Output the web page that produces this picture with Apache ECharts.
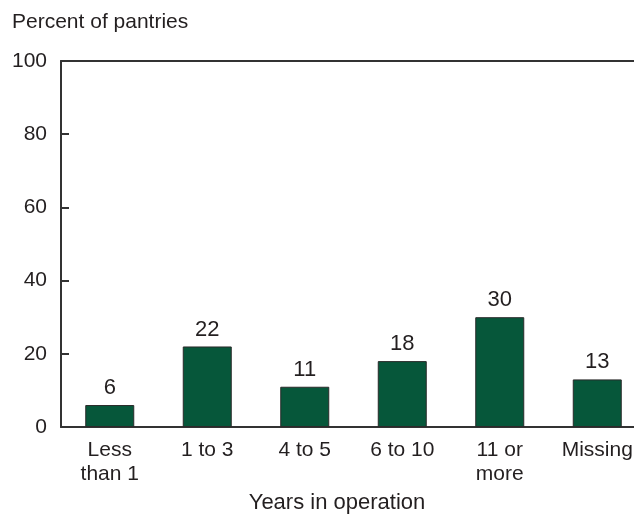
<!DOCTYPE html>
<html>
<head>
<meta charset="utf-8">
<script src="https://cdn.jsdelivr.net/npm/echarts@6/dist/echarts.min.js"></script>
<style>
  html, body { margin: 0; padding: 0; background: #fff; overflow: hidden; }
  /* the plot runs past the right edge of the window in the original */
  #chart { width: 646px; height: 514px; }
</style>
</head>
<body>
<div id="chart"></div>
<script>
// data
var categories = ["Less\nthan 1", "1 to 3", "4 to 5", "6 to 10", "11 or\nmore", "Missing"];
var pantry_pct = [6, 22, 11, 18, 30, 13];
var y_ticks = [0, 20, 40, 60, 80, 100];

var font = "'Liberation Sans', Arial, sans-serif";
var ink = "#231f20";

var chart = echarts.init(document.getElementById("chart"));

var option = {
    animation: false,
    backgroundColor: "#fff",
    textStyle: { fontFamily: font },
    grid: {
        left: 61,
        top: 61,
        right: 0,
        height: 366
    },
    graphic: [
        {
            type: "text",
            left: 12,
            top: 12,
            style: { text: "Percent of pantries", font: "21px " + font, fill: ink }
        },
        {
            type: "text",
            x: 337,
            y: 492,
            style: { text: "Years in operation", font: "22px " + font, fill: ink, textAlign: "center" }
        }
    ],
    xAxis: [
        {
            type: "category",
            data: categories,
            axisLine: { lineStyle: { color: "#333", width: 2 } },
            axisTick: { show: false },
            axisLabel: {
                color: ink,
                fontSize: 21,
                lineHeight: 24,
                margin: 11,
                interval: 0
            }
        },
        {
            type: "category",
            position: "top",
            data: categories,
            axisLine: { lineStyle: { color: "#333", width: 2 } },
            axisTick: { show: false },
            axisLabel: { show: false }
        }
    ],
    yAxis: {
        type: "value",
        min: 0,
        max: 100,
        interval: 20,
        axisLine: { show: true, lineStyle: { color: "#333", width: 2 } },
        axisTick: { show: true, inside: true, length: 8, lineStyle: { color: "#333", width: 2 } },
        splitLine: { show: false },
        axisLabel: {
            color: ink,
            fontSize: 21,
            margin: 14,
            formatter: function (v) { return y_ticks.indexOf(v) >= 0 ? String(v) : ""; }
        }
    },
    series: [
        {
            type: "bar",
            data: pantry_pct,
            barWidth: 49,
            itemStyle: {
                color: "#06573a",
                borderColor: "#2a2a2a",
                borderWidth: 1
            },
            label: {
                show: true,
                position: "top",
                distance: 6,
                color: ink,
                fontSize: 22
            }
        }
    ]
};

chart.setOption(option);
</script>
</body>
</html>
